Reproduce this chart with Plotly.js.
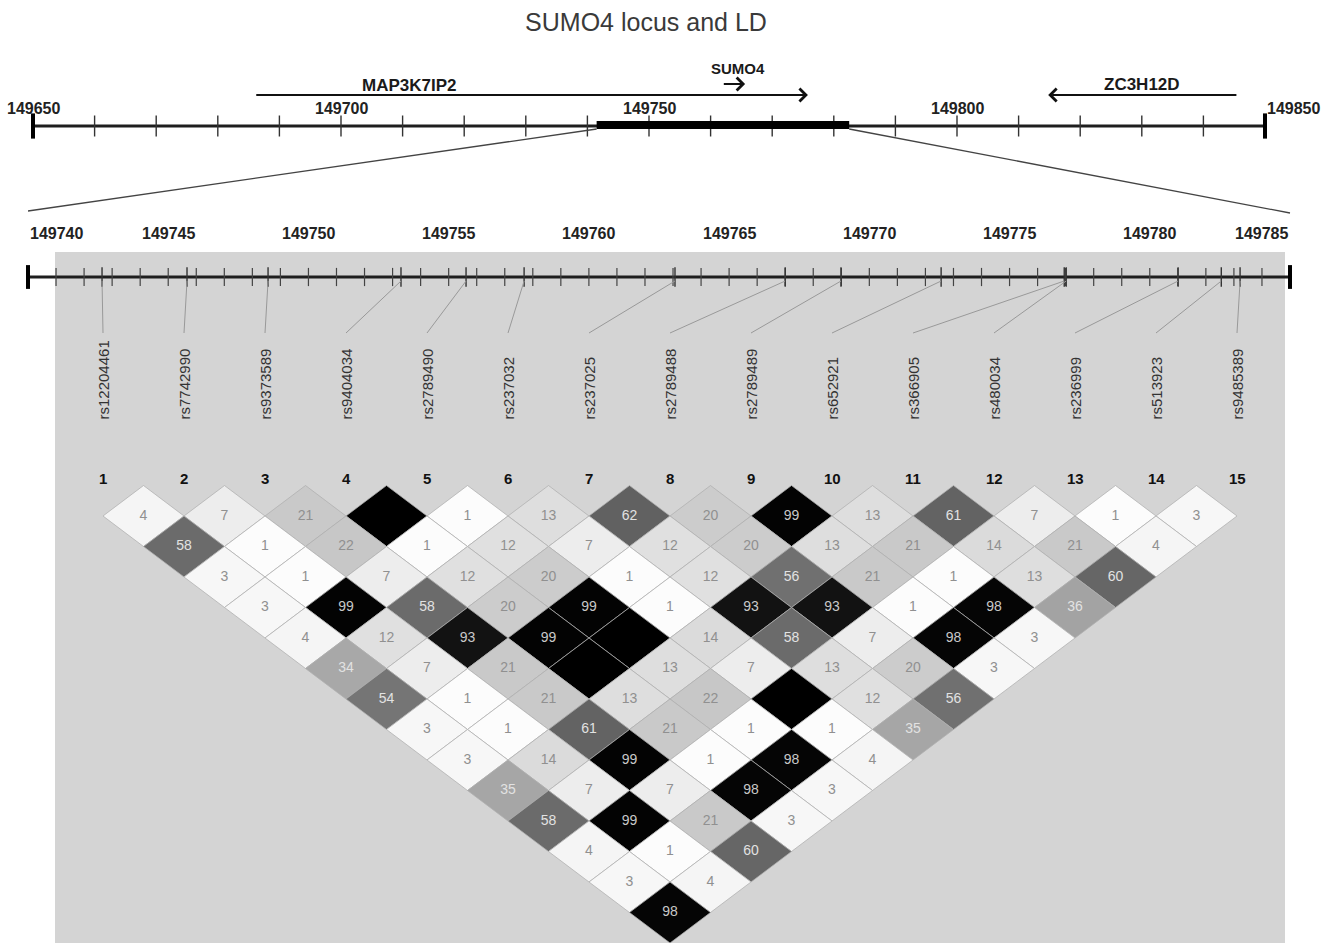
<!DOCTYPE html>
<html><head><meta charset="utf-8">
<script src="https://cdn.plot.ly/plotly-3.0.1.min.js"></script>
<style>html,body{margin:0;padding:0;background:#fff}#chart{width:1331px;height:943px}</style>
</head><body><div id="chart"></div>
<script>
// ================= DATA =================
const locusTicks  = [149650, 149700, 149750, 149800, 149850];
const regionTicks = [149740, 149745, 149750, 149755, 149760, 149765, 149770, 149775, 149780, 149785];
const geneNames   = ['MAP3K7IP2', 'SUMO4', 'ZC3H12D'];
const geneStart   = [149686.0, 149761.9, 149845.6];
const geneEnd     = [149775.8, 149765.6, 149814.8];
const geneLabelAt = [149711.0, 149764.5, 149830.0];
const ldBlock     = [149741.5, 149782.5];
const snpNames = ['rs12204461','rs7742990','rs9373589','rs9404034','rs2789490','rs237032','rs237025',
                  'rs2789488','rs2789489','rs652921','rs366905','rs480034','rs236999','rs513923','rs9485389'];
const snpPos   = [149742.64,149745.67,149748.56,149753.30,149755.62,149757.69,149763.07,
                  149767.00,149768.99,149772.56,149776.95,149777.02,149781.01,149782.55,149783.22];
// r2 x 100 by SNP distance (null = 100, drawn black without number)
const ld1  = [4, 7, 21, null, 1, 13, 62, 20, 99, 13, 61, 7, 1, 3];
const ld2  = [58, 1, 22, 1, 12, 7, 12, 20, 13, 21, 14, 21, 4];
const ld3  = [3, 1, 7, 12, 20, 1, 12, 56, 21, 1, 13, 60];
const ld4  = [3, 99, 58, 20, 99, 1, 93, 93, 1, 98, 36];
const ld5  = [4, 12, 93, 99, null, 14, 58, 7, 98, 3];
const ld6  = [34, 7, 21, null, 13, 7, 13, 20, 3];
const ld7  = [54, 1, 21, 13, 22, null, 12, 56];
const ld8  = [3, 1, 61, 21, 1, 1, 35];
const ld9  = [3, 14, 99, 1, 98, 4];
const ld10 = [35, 7, 7, 98, 3];
const ld11 = [58, 99, 21, 3];
const ld12 = [4, 1, 60];
const ld13 = [3, 4];
const ld14 = [98];
const ldRows = [ld1, ld2, ld3, ld4, ld5, ld6, ld7, ld8, ld9, ld10, ld11, ld12, ld13, ld14];

// ================= LAYOUT CONSTANTS =================
const W = 1331, H = 943;
const FONT = 'Liberation Sans, Arial, Helvetica, sans-serif';
const L1 = {px0: 33, px1: 1265};   // pixel span of locus axis
const L2 = {px0: 28, px1: 1290};   // pixel span of region axis
const k1a = locusTicks[0], k1b = locusTicks[locusTicks.length-1];
const k2a = regionTicks[0], k2b = regionTicks[regionTicks.length-1];
const s1 = (L1.px1 - L1.px0) / (k1b - k1a);
const s2 = (L2.px1 - L2.px0) / (k2b - k2a);
const x1range = [k1a - L1.px0 / s1, k1a + (W - L1.px0) / s1];
const x2range = [k2a - L2.px0 / s2, k2a + (W - L2.px0) / s2];
const IDX_PX0 = 103, IDX_STEP = 81;
const x3range = [1 - IDX_PX0 / IDX_STEP, 1 + (W - IDX_PX0) / IDX_STEP];
const ROW_PX0 = 485.5, ROW_STEP = 30.5;
const y3range = [(H - ROW_PX0) / ROW_STEP, -ROW_PX0 / ROW_STEP];
const p1 = kb => (L1.px0 + (kb - k1a) * s1) / W;
const p2 = kb => (L2.px0 + (kb - k2a) * s2) / W;
const p3 = i  => (IDX_PX0 + (i - 1) * IDX_STEP) / W;

const Y_LOCUS = 126, Y_LOCUS_LBL = 108;
const GENE_Y = [95, 84, 95], GENE_LBL_Y = [85, 68, 84];
const Y_REGION = 277, Y_REGION_LBL = 233;

// ================= TRACES =================
const traces = [];
const AX = '#1e1e1e';
// locus axis
traces.push({x: [k1a, k1b], y: [Y_LOCUS, Y_LOCUS], xaxis: 'x', yaxis: 'y', mode: 'lines',
  line: {color: AX, width: 3}, hoverinfo: 'skip'});
const locusMinor = [];
for (let v = k1a + 10; v < k1b; v += 10) locusMinor.push(v);
traces.push({x: locusMinor, y: locusMinor.map(() => Y_LOCUS), xaxis: 'x', yaxis: 'y', mode: 'markers',
  marker: {symbol: 'line-ns-open', size: 15, color: '#333', line: {width: 1.4, color: '#333'}}, hoverinfo: 'skip'});
traces.push({x: [k1a, k1b], y: [Y_LOCUS, Y_LOCUS], xaxis: 'x', yaxis: 'y', mode: 'markers',
  marker: {symbol: 'line-ns-open', size: 18, color: '#000', line: {width: 4, color: '#000'}}, hoverinfo: 'skip'});
traces.push({x: ldBlock, y: [Y_LOCUS - 1, Y_LOCUS - 1], xaxis: 'x', yaxis: 'y', mode: 'lines',
  line: {color: '#000', width: 8}, hoverinfo: 'skip'});

// region axis
traces.push({x: [k2a, k2b], y: [Y_REGION, Y_REGION], xaxis: 'x2', yaxis: 'y', mode: 'lines',
  line: {color: AX, width: 3}, hoverinfo: 'skip'});
const regionMinor = [];
for (let v = k2a + 1; v < k2b; v += 1) regionMinor.push(v);
traces.push({x: regionMinor, y: regionMinor.map(() => Y_REGION), xaxis: 'x2', yaxis: 'y', mode: 'markers',
  marker: {symbol: 'line-ns-open', size: 13, color: '#444', line: {width: 1.2, color: '#444'}}, hoverinfo: 'skip'});
traces.push({x: snpPos, y: snpPos.map(() => Y_REGION), xaxis: 'x2', yaxis: 'y', mode: 'markers',
  marker: {symbol: 'line-ns-open', size: 14, color: '#333', line: {width: 1.4, color: '#333'}}, hoverinfo: 'skip'});
traces.push({x: [k2a, k2b], y: [Y_REGION, Y_REGION], xaxis: 'x2', yaxis: 'y', mode: 'markers',
  marker: {symbol: 'line-ns-open', size: 17, color: '#000', line: {width: 4, color: '#000'}}, hoverinfo: 'skip'});

// LD diamonds
const cx = [], cy = [], ctext = [], ccol = [];
ldRows.forEach((row, di) => {
  const d = di + 1;
  row.forEach((v, k) => {
    const i = k + 1;              // first SNP
    const x = i + d / 2;          // centre on index axis
    const r = (v === null) ? 100 : v;
    const g = Math.round(255 * (1 - r / 100));
    traces.push({x: [x - 0.5, x, x + 0.5, x, x - 0.5], y: [d, d - 1, d, d + 1, d],
      xaxis: 'x3', yaxis: 'y3', mode: 'lines', fill: 'toself',
      fillcolor: `rgb(${g},${g},${g})`, line: {color: 'rgba(175,175,175,0.75)', width: 1},
      hoverinfo: 'skip'});
    cx.push(x); cy.push(d);
    ctext.push(v === null ? '' : String(v));
    ccol.push(r >= 90 ? '#c9c9c9' : (r >= 30 ? '#e2e2e2' : '#909090'));
  });
});
traces.push({x: cx, y: cy, xaxis: 'x3', yaxis: 'y3', mode: 'text', text: ctext,
  textfont: {family: FONT, size: 14, color: ccol}, textposition: 'middle center', hoverinfo: 'skip'});

// ================= SHAPES =================
const shapes = [];
shapes.push({type: 'rect', xref: 'paper', yref: 'y', x0: 55 / W, x1: 1285 / W, y0: 252, y1: H,
  fillcolor: '#d4d4d4', line: {width: 0}, layer: 'below'});
shapes.push({type: 'line', xref: 'paper', yref: 'y', x0: p1(ldBlock[0]), y0: Y_LOCUS + 3, x1: p2(k2a), y1: 211,
  line: {color: '#444', width: 1.3}});
shapes.push({type: 'line', xref: 'paper', yref: 'y', x0: p1(ldBlock[1]), y0: Y_LOCUS + 3, x1: p2(k2b), y1: 213,
  line: {color: '#444', width: 1.3}});
snpPos.forEach((pos, i) => {
  shapes.push({type: 'line', xref: 'paper', yref: 'y', x0: p2(pos), y0: Y_REGION + 4, x1: p3(i + 1), y1: 333,
    line: {color: '#999999', width: 1}});
});

// ================= ANNOTATIONS =================
const ann = [];
// gene arrows + labels
geneNames.forEach((g, i) => {
  ann.push({xref: 'x', yref: 'y', x: geneEnd[i], y: GENE_Y[i], axref: 'x', ayref: 'y',
    ax: geneStart[i], ay: GENE_Y[i], text: '', showarrow: true, arrowhead: 4, arrowsize: 1.25,
    arrowwidth: 2, arrowcolor: '#111', standoff: 0, startstandoff: 0});
  ann.push({xref: 'x', yref: 'y', x: geneLabelAt[i], y: GENE_LBL_Y[i], text: '<b>' + g + '</b>',
    showarrow: false, xanchor: 'center', yanchor: 'middle',
    font: {family: FONT, size: (i === 1 ? 15 : 17), color: '#1a1a1a'}});
});
// locus tick labels
locusTicks.forEach((t, i) => {
  ann.push({xref: 'x', yref: 'y', x: t, y: Y_LOCUS_LBL, text: '<b>' + t + '</b>', showarrow: false,
    xanchor: (i === locusTicks.length - 1 ? 'left' : 'center'), yanchor: 'middle',
    font: {family: FONT, size: 16, color: '#222'}});
});
// region tick labels
regionTicks.forEach((t, i) => {
  ann.push({xref: 'x2', yref: 'y', x: t, y: Y_REGION_LBL, text: '<b>' + t + '</b>', showarrow: false,
    xanchor: (i === 0 ? 'left' : (i === regionTicks.length - 1 ? 'right' : 'center')), yanchor: 'middle',
    font: {family: FONT, size: 16, color: '#222'}});
});
// SNP names and indices
snpNames.forEach((n, i) => {
  ann.push({xref: 'x3', yref: 'y', x: i + 1, y: 422, text: n, textangle: -90, showarrow: false,
    xanchor: 'center', yanchor: 'bottom', font: {family: FONT, size: 15, color: '#333'}});
  ann.push({xref: 'x3', yref: 'y', x: i + 1, y: 478, text: '<b>' + (i + 1) + '</b>', showarrow: false,
    xanchor: 'center', yanchor: 'middle', font: {family: FONT, size: 15, color: '#111'}});
});

const hidden = {visible: false, fixedrange: true, autorange: false};
const layout = {
  width: W, height: H, margin: {l: 0, r: 0, t: 0, b: 0, pad: 0},
  paper_bgcolor: '#ffffff', plot_bgcolor: 'rgba(0,0,0,0)', showlegend: false, hovermode: false,
  title: {text: 'SUMO4 locus and LD', x: 646 / W, xanchor: 'center', y: 1 - 22 / H, yanchor: 'middle',
    font: {family: FONT, size: 25, color: '#3a3a3a'}},
  xaxis:  Object.assign({}, hidden, {range: x1range, domain: [0, 1], anchor: 'y'}),
  xaxis2: Object.assign({}, hidden, {range: x2range, domain: [0, 1], anchor: 'y', overlaying: 'x'}),
  xaxis3: Object.assign({}, hidden, {range: x3range, domain: [0, 1], anchor: 'y3', overlaying: 'x'}),
  yaxis:  Object.assign({}, hidden, {range: [H, 0], domain: [0, 1], anchor: 'x'}),
  yaxis3: Object.assign({}, hidden, {range: y3range, domain: [0, 1], anchor: 'x3', overlaying: 'y'}),
  shapes: shapes, annotations: ann
};
Plotly.newPlot('chart', traces, layout, {displayModeBar: false, staticPlot: true});
</script>
</body></html>
